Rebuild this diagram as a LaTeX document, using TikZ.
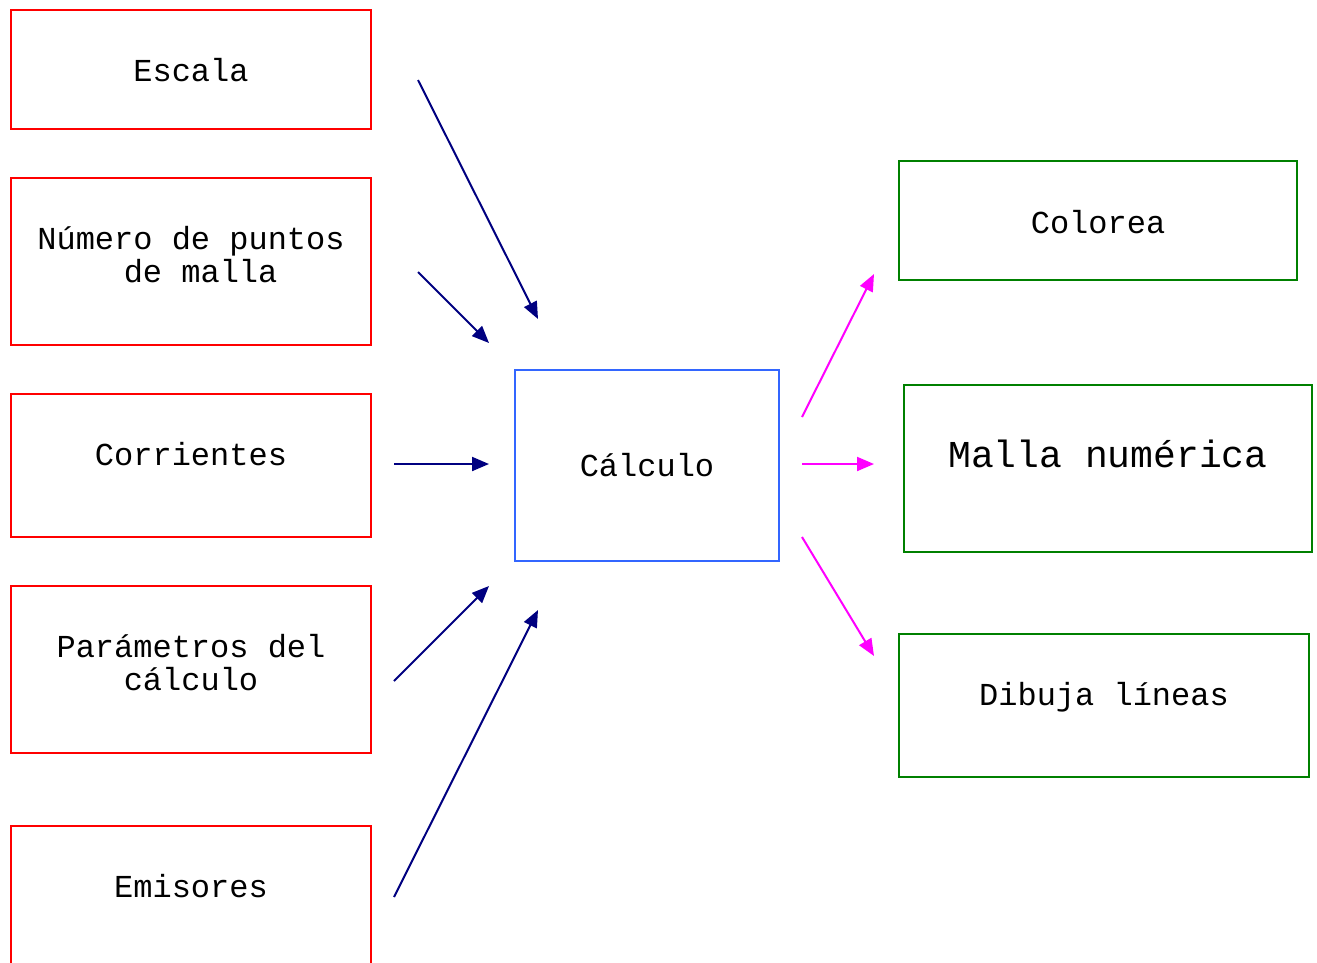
\documentclass[tikz,border=0pt]{standalone}
\usepackage{fontspec}
\setmonofont{Liberation Mono}
\usepackage{tikz}
\usetikzlibrary{arrows.meta}

\definecolor{inred}{RGB}{255,0,0}
\definecolor{calcblue}{RGB}{51,102,255}
\definecolor{outgreen}{RGB}{0,128,0}
\definecolor{innavy}{RGB}{0,0,128}
\definecolor{outmag}{RGB}{255,0,255}

\begin{document}
\begin{tikzpicture}[
  x=1pt,y=-1pt,
  font=\ttfamily\fontsize{32}{33}\selectfont,
  inbox/.style={draw=inred, line width=2pt, anchor=north west, inner sep=0pt},
  outbox/.style={draw=outgreen, line width=2pt, anchor=north west, inner sep=0pt},
  txt/.style={anchor=base, yshift=-72pt, align=center, inner sep=0pt},
  txttwo/.style={txt, yshift=-33pt},
  inarr/.style={-{Triangle[length=17pt,width=14pt]}, draw=innavy, line width=2pt},
  outarr/.style={-{Triangle[length=17pt,width=14pt]}, draw=outmag, line width=2pt},
]
\useasboundingbox (0,0) rectangle (1317,962);

% ---------------- inputs (left column) ----------------
\node[inbox, minimum width=360pt, minimum height=119pt,
      label={[txt]north:Escala}] (esc) at (10,9) {};
\node[inbox, minimum width=360pt, minimum height=167pt,
      label={[txttwo]north:{Número de puntos\\\hspace*{0.6em}de malla}}] (npm) at (10,177) {};
\node[inbox, minimum width=360pt, minimum height=143pt,
      label={[txt]north:Corrientes}] (corr) at (10,393) {};
\node[inbox, minimum width=360pt, minimum height=167pt,
      label={[txttwo]north:{Parámetros del\\cálculo}}] (par) at (10,585) {};
\node[inbox, minimum width=360pt, minimum height=160pt,
      label={[txt]north:Emisores}] (emi) at (10,825) {};

% ---------------- central box ----------------
\node[draw=calcblue, line width=2pt, anchor=north west, inner sep=0pt,
      minimum width=264pt, minimum height=191pt] (calc) at (514,369) {Cálculo};

% ---------------- outputs (right column) ----------------
\node[outbox, minimum width=398pt, minimum height=119pt,
      label={[txt, yshift=-1pt]north:Colorea}] (col) at (898,160) {};
\node[outbox, minimum width=408pt, minimum height=167pt,
      label={[txt, yshift=-11pt, font=\ttfamily\fontsize{38}{40}\selectfont]north:Malla numérica}] (malla) at (903,384) {};
\node[outbox, minimum width=410pt, minimum height=143pt,
      label={[txt]north:Dibuja líneas}] (dib) at (898,633) {};

% free ends of the arrows
\coordinate (a1) at (418,80);   \coordinate (b1) at (538,319);
\coordinate (a2) at (418,272);  \coordinate (b2) at (489,343);
\coordinate (a3) at (394,464);  \coordinate (b3) at (489,464);
\coordinate (a4) at (394,681);  \coordinate (b4) at (489,586);
\coordinate (a5) at (394,897);  \coordinate (b5) at (538,610);

\coordinate (c1) at (802,417);  \coordinate (d1) at (874,274);
\coordinate (c2) at (802,464);  \coordinate (d2) at (874,464);
\coordinate (c3) at (802,537);  \coordinate (d3) at (874,656);

% inputs -> calculation
\draw[inarr] (a1) -- (b1);
\draw[inarr] (a2) -- (b2);
\draw[inarr] (a3) -- (b3);
\draw[inarr] (a4) -- (b4);
\draw[inarr] (a5) -- (b5);

% calculation -> outputs
\draw[outarr] (c1) -- (d1);
\draw[outarr] (c2) -- (d2);
\draw[outarr] (c3) -- (d3);

\end{tikzpicture}
\end{document}
